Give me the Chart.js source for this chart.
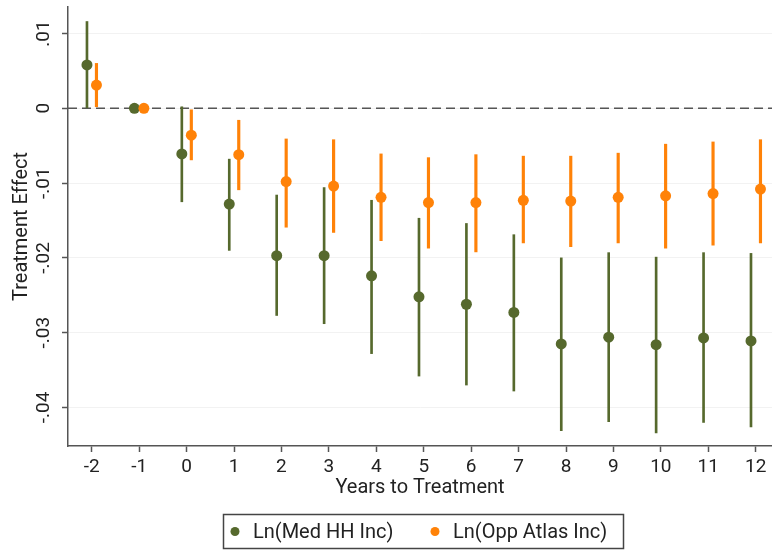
<!DOCTYPE html>
<html><head><meta charset="utf-8">
<script src="https://cdn.jsdelivr.net/npm/chart.js@4"></script>
<style>html,body{margin:0;padding:0;background:#fff}#wrap{width:772px;height:550px}</style>
</head><body><div id="wrap"><canvas id="c" width="772" height="550"></canvas></div>
<script>
const years = [-2,-1,0,1,2,3,4,5,6,7,8,9,10,11,12];
const medHH   = [0.0058, 0, -0.0061, -0.0128, -0.0197, -0.0197, -0.0224, -0.0252, -0.0262, -0.0273, -0.0315, -0.0306, -0.0316, -0.0307, -0.0311];
const medHHLo = [0.0000, 0, -0.0125, -0.0190, -0.0277, -0.0288, -0.0328, -0.0358, -0.0370, -0.0378, -0.0431, -0.0419, -0.0434, -0.0420, -0.0426];
const medHHHi = [0.0116, 0,  0.0002, -0.0068, -0.0116, -0.0106, -0.0123, -0.0147, -0.0154, -0.0169, -0.0200, -0.0193, -0.0199, -0.0193, -0.0194];
const oppAtlas   = [0.0031, 0, -0.0036, -0.0062, -0.0098, -0.0104, -0.0119, -0.0126, -0.0126, -0.0123, -0.0124, -0.0119, -0.0117, -0.0114, -0.0108];
const oppAtlasLo = [0.0002, 0, -0.0069, -0.0109, -0.0159, -0.0166, -0.0177, -0.0187, -0.0192, -0.0180, -0.0185, -0.0180, -0.0187, -0.0183, -0.0180];
const oppAtlasHi = [0.0060, 0, -0.0002, -0.0016, -0.0041, -0.0042, -0.0061, -0.0066, -0.0062, -0.0064, -0.0064, -0.0060, -0.0048, -0.0045, -0.0042];
const xTickValues = [-2,-1,0,1,2,3,4,5,6,7,8,9,10,11,12];
const yTickValues = [0.01, 0, -0.01, -0.02, -0.03, -0.04];
const yTickLabels = ['.01','0','-.01','-.02','-.03','-.04'];
const seriesNames = ['Ln(Med HH Inc)', 'Ln(Opp Atlas Inc)'];
const xTitle = 'Years to Treatment';
const yTitle = 'Treatment Effect';

const GREEN = '#56692d';
const ORANGE = '#ff8208';
const AXIS = '#555555';
const TEXT = '#222222';
const FONT = 'Roboto';
const OFF = 0.1;

const pts = (vals, off) => years.map((yr, i) => ({x: yr + off, y: vals[i]}));
const cis = (lo, hi, off) => years.map((yr, i) => ({x: yr + off, y: [lo[i], hi[i]]}));

const zeroLine = {
  id: 'zeroLine',
  beforeDatasetsDraw(chart) {
    const {ctx, chartArea, scales} = chart;
    const y = scales.y.getPixelForValue(0);
    ctx.save();
    ctx.strokeStyle = AXIS;
    ctx.lineWidth = 1.5;
    ctx.setLineDash([9, 5]);
    ctx.beginPath();
    ctx.moveTo(chartArea.left, y);
    ctx.lineTo(chartArea.right, y);
    ctx.stroke();
    ctx.restore();
  }
};

const extras = {
  id: 'extras',
  afterDraw(chart) {
    const {ctx, scales} = chart;
    // rotated y tick labels
    ctx.save();
    ctx.fillStyle = TEXT;
    ctx.font = '19px ' + FONT;
    ctx.textAlign = 'center';
    ctx.textBaseline = 'middle';
    yTickValues.forEach((v, i) => {
      const py = scales.y.getPixelForValue(v);
      ctx.save();
      ctx.translate(44, py);
      ctx.rotate(-Math.PI / 2);
      ctx.fillText(yTickLabels[i], 0, 0);
      ctx.restore();
    });
    ctx.restore();
    // legend box
    const items = [chart.data.datasets[1], chart.data.datasets[0]];
    const dotX = [235, 435];
    ctx.save();
    ctx.font = '20px ' + FONT;
    ctx.strokeStyle = '#444';
    ctx.lineWidth = 1.5;
    ctx.strokeRect(223.5, 514.5, 400, 34);
    const cy = 531.5;
    ctx.textBaseline = 'middle';
    ctx.textAlign = 'left';
    items.forEach((d, i) => {
      ctx.fillStyle = d.backgroundColor;
      ctx.beginPath();
      ctx.arc(dotX[i], cy, 4.5, 0, Math.PI * 2);
      ctx.fill();
      ctx.fillStyle = TEXT;
      ctx.fillText(d.label, dotX[i] + 18, cy + 1);
    });
    ctx.restore();
  }
};

const noPad = s => { s.paddingLeft = 0; s.paddingRight = 0; s.paddingTop = 0; s.paddingBottom = 0; };

new Chart(document.getElementById('c'), {
  type: 'scatter',
  data: {
    datasets: [
      {type: 'scatter', label: seriesNames[1], data: pts(oppAtlas, OFF), backgroundColor: ORANGE, pointRadius: 5.5, pointBorderWidth: 0, borderWidth: 0, pointHoverRadius: 5.5},
      {type: 'scatter', label: seriesNames[0], data: pts(medHH, -OFF), backgroundColor: GREEN, pointRadius: 5.5, pointBorderWidth: 0, borderWidth: 0, pointHoverRadius: 5.5},
      {type: 'bar', label: seriesNames[1] + ' CI', data: cis(oppAtlasLo, oppAtlasHi, OFF), backgroundColor: ORANGE, barThickness: 2.5, grouped: false, borderWidth: 0},
      {type: 'bar', label: seriesNames[0] + ' CI', data: cis(medHHLo, medHHHi, -OFF), backgroundColor: GREEN, barThickness: 2, grouped: false, borderWidth: 0}
    ]
  },
  options: {
    responsive: false,
    animation: false,
    devicePixelRatio: 1,
    events: [],
    layout: {autoPadding: false, padding: {top: 7, left: 0, right: 0, bottom: 0}},
    plugins: {legend: {display: false}, tooltip: {enabled: false}},
    scales: {
      x: {
        type: 'linear', min: -2.5, max: 12.343, offset: false,
        afterBuildTicks: s => { s.ticks = xTickValues.map(v => ({value: v})); },
        ticks: {font: {family: FONT, size: 19}, color: TEXT, padding: 4, maxRotation: 0, autoSkip: false, callback: v => String(v)},
        grid: {display: true, drawOnChartArea: false, drawTicks: true, tickLength: 6, tickColor: AXIS, tickWidth: 1.5, offset: false},
        border: {display: true, color: AXIS, width: 1.5},
        title: {display: true, text: xTitle, color: TEXT, font: {family: FONT, size: 20, lineHeight: 1.2}, padding: {top: 0, bottom: 50}},
        afterFit: s => { s.height = 104; noPad(s); }
      },
      y: {
        type: 'linear', min: -0.04515, max: 0.01354, beginAtZero: false,
        afterBuildTicks: s => { s.ticks = yTickValues.map(v => ({value: v})); },
        ticks: {color: 'rgba(0,0,0,0)', font: {family: FONT, size: 2}, padding: 0},
        grid: {display: true, drawOnChartArea: true, color: '#f2f2f2', lineWidth: 1, drawTicks: true, tickLength: 6, tickColor: AXIS, tickWidth: 1.5},
        border: {display: true, color: AXIS, width: 1.5},
        title: {display: true, text: yTitle, color: TEXT, font: {family: FONT, size: 20, lineHeight: 1.2}, padding: {top: 10, bottom: 0}},
        afterFit: s => { s.width = 68; noPad(s); }
      }
    }
  },
  plugins: [zeroLine, extras]
});
</script>
</body></html>
